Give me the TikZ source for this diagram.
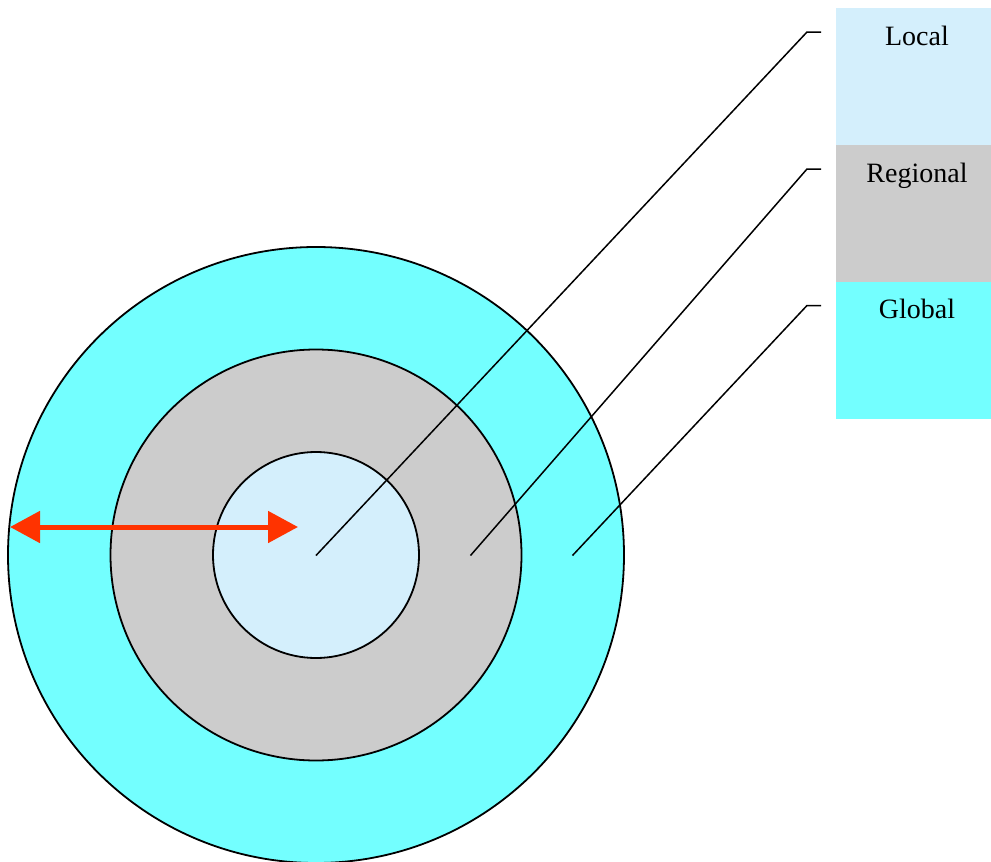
\documentclass[tikz,border=0pt]{standalone}
\usepackage{fontspec}
\setmainfont{Liberation Serif}
\usetikzlibrary{arrows.meta}
\definecolor{localc}{RGB}{212,239,252}
\definecolor{regionc}{RGB}{204,204,204}
\definecolor{globalc}{RGB}{115,255,255}
\definecolor{arrowc}{RGB}{255,51,0}
\begin{document}
\begin{tikzpicture}[x=1pt,y=-1pt,
  ring/.style={circle,draw=black,line width=1.8pt,inner sep=0pt,minimum size=#1},
  legbox/.style={rectangle,draw=none,inner sep=0pt,minimum width=155pt,minimum height=#1,anchor=north west},
  legtext/.style={anchor=base,font=\fontsize{28}{30}\selectfont,inner sep=0pt},
  leader/.style={draw=black,line width=1.5pt},
  span/.style={draw=arrowc,line width=5pt,{Triangle[length=30pt,width=31pt]}-{Triangle[length=30pt,width=31pt]}}]
\useasboundingbox (0,0) rectangle (991,862);

% concentric zones
\node[ring=616pt,fill=globalc] (cglobal) at (316,555) {};
\node[ring=411pt,fill=regionc] (cregion) at (316,555) {};
\node[ring=206pt,fill=localc] (clocal) at (316,555) {};

% legend boxes
\node[legbox=137pt,fill=localc] (blocal) at (836,8) {};
\node[legbox=137pt,fill=regionc] (bregion) at (836,145) {};
\node[legbox=137pt,fill=globalc] (bglobal) at (836,281.5) {};
\node[legtext] (tlocal) at (917,45.7) {Local};
\node[legtext] (tregion) at (917,182) {Regional};
\node[legtext] (tglobal) at (917,318) {Global};

% leader lines from each zone to its legend entry
\coordinate (plocal) at (316,555.5);
\coordinate (pregion) at (470.5,555.5);
\coordinate (pglobal) at (572.5,555.5);
\coordinate (klocal) at (807,32);
\coordinate (kregion) at (807,169);
\coordinate (kglobal) at (807,305.5);
\coordinate (elocal) at (821,32);
\coordinate (eregion) at (821,169);
\coordinate (eglobal) at (821,305.5);
\draw[leader] (plocal) -- (klocal) -- (elocal);
\draw[leader] (pregion) -- (kregion) -- (eregion);
\draw[leader] (pglobal) -- (kglobal) -- (eglobal);

% radius arrow
\coordinate (aleft) at (10,527);
\coordinate (aright) at (298,527);
\draw[span] (aleft) -- (aright);
\end{tikzpicture}
\end{document}
